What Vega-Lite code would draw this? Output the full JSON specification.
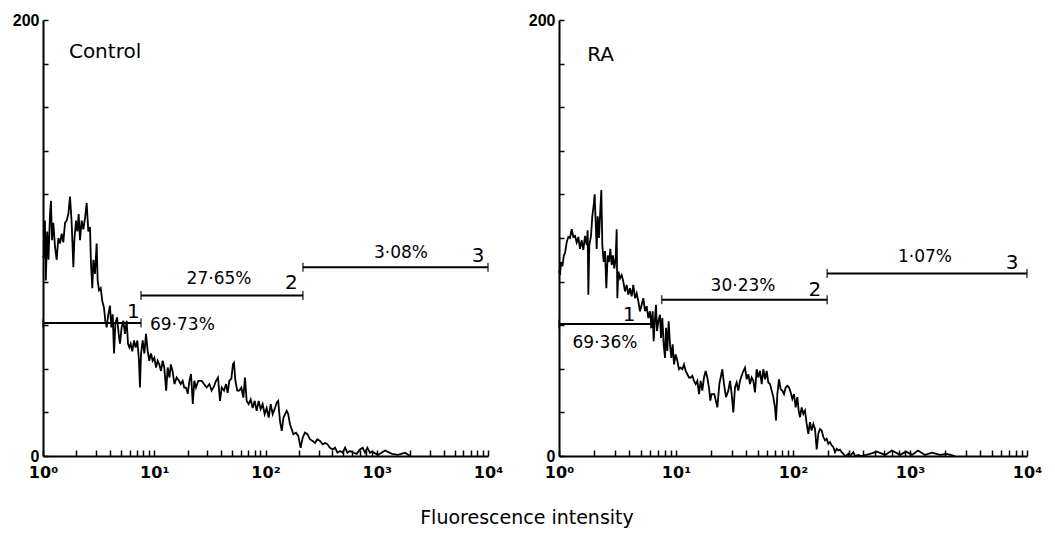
{
  "$schema": "https://vega.github.io/schema/vega-lite/v6.json",
  "background": "white",
  "padding": {"left": 12, "top": 12, "right": 5, "bottom": 2},
  "bounds": "flush",
  "spacing": 71,
  "title": {"text": "Fluorescence intensity", "orient": "bottom", "anchor": "middle", "font": "DejaVu Sans", "fontSize": 19, "fontWeight": "normal", "color": "black", "offset": 29},
  "config": {
    "view": {"stroke": null},
    "axis": {"grid": false, "domainColor": "black", "domainWidth": 2, "tickColor": "black", "tickWidth": 1.5, "labelColor": "black", "labelFont": "Liberation Sans", "labelFontWeight": "bold", "labelOverlap": false, "labelFlush": false},
    "axisX": {"tickSize": -6, "labelPadding": 14, "labelFontSize": 16, "labelFont": "DejaVu Sans"},
    "axisY": {"tickSize": -5, "labelPadding": 9, "labelFontSize": 16}
  },
  "datasets": {
    "control": [
      {"intensity": 1.0, "count": 92}, {"intensity": 1.02, "count": 91}, {"intensity": 1.04, "count": 108}, {"intensity": 1.06, "count": 80.5}, {"intensity": 1.09, "count": 103}, {"intensity": 1.12, "count": 90}, {"intensity": 1.156, "count": 111}, {"intensity": 1.18, "count": 117}, {"intensity": 1.205, "count": 99}, {"intensity": 1.238, "count": 107}, {"intensity": 1.282, "count": 96}, {"intensity": 1.327, "count": 90}, {"intensity": 1.373, "count": 100}, {"intensity": 1.422, "count": 97.5}, {"intensity": 1.472, "count": 102}, {"intensity": 1.523, "count": 98}, {"intensity": 1.577, "count": 107}, {"intensity": 1.632, "count": 108}, {"intensity": 1.69, "count": 111}, {"intensity": 1.749, "count": 119}, {"intensity": 1.81, "count": 107}, {"intensity": 1.874, "count": 86.6}, {"intensity": 1.913, "count": 99}, {"intensity": 1.98, "count": 108}, {"intensity": 2.036, "count": 103}, {"intensity": 2.092, "count": 111}, {"intensity": 2.151, "count": 99}, {"intensity": 2.227, "count": 108}, {"intensity": 2.305, "count": 104}, {"intensity": 2.385, "count": 109}, {"intensity": 2.469, "count": 116}, {"intensity": 2.556, "count": 103}, {"intensity": 2.645, "count": 105}, {"intensity": 2.7, "count": 88}, {"intensity": 2.775, "count": 77}, {"intensity": 2.834, "count": 90}, {"intensity": 2.933, "count": 83.5}, {"intensity": 3.036, "count": 97.5}, {"intensity": 3.1, "count": 80.5}, {"intensity": 3.187, "count": 76}, {"intensity": 3.299, "count": 77}, {"intensity": 3.414, "count": 71}, {"intensity": 3.533, "count": 68}, {"intensity": 3.632, "count": 62}, {"intensity": 3.735, "count": 59}, {"intensity": 3.866, "count": 65}, {"intensity": 4.0, "count": 69}, {"intensity": 4.113, "count": 59}, {"intensity": 4.23, "count": 65}, {"intensity": 4.35, "count": 47}, {"intensity": 4.47, "count": 60.6}, {"intensity": 4.63, "count": 63.6}, {"intensity": 4.79, "count": 56}, {"intensity": 4.92, "count": 51.5}, {"intensity": 5.09, "count": 59}, {"intensity": 5.27, "count": 62}, {"intensity": 5.46, "count": 56}, {"intensity": 5.65, "count": 62}, {"intensity": 5.81, "count": 51.5}, {"intensity": 5.97, "count": 49.8}, {"intensity": 6.14, "count": 51.5}, {"intensity": 6.35, "count": 48}, {"intensity": 6.58, "count": 53}, {"intensity": 6.81, "count": 49.8}, {"intensity": 7.05, "count": 53}, {"intensity": 7.29, "count": 43.7}, {"intensity": 7.44, "count": 31.4}, {"intensity": 7.6, "count": 46.8}, {"intensity": 7.87, "count": 53}, {"intensity": 8.15, "count": 47}, {"intensity": 8.43, "count": 56}, {"intensity": 8.73, "count": 48}, {"intensity": 9.03, "count": 43.7}, {"intensity": 9.35, "count": 47}, {"intensity": 9.68, "count": 43.7}, {"intensity": 10.02, "count": 45}, {"intensity": 10.37, "count": 40.6}, {"intensity": 10.73, "count": 43.7}, {"intensity": 11.1, "count": 42}, {"intensity": 11.5, "count": 39}, {"intensity": 11.9, "count": 43.7}, {"intensity": 12.3, "count": 40.6}, {"intensity": 12.8, "count": 30}, {"intensity": 13.2, "count": 40.6}, {"intensity": 13.7, "count": 36}, {"intensity": 14.1, "count": 42}, {"intensity": 14.6, "count": 39}, {"intensity": 15.2, "count": 33}, {"intensity": 15.9, "count": 36}, {"intensity": 16.7, "count": 34.5}, {"intensity": 17.3, "count": 33}, {"intensity": 18.0, "count": 34.5}, {"intensity": 18.6, "count": 31.4}, {"intensity": 19.3, "count": 31.4}, {"intensity": 20.0, "count": 28.5}, {"intensity": 20.7, "count": 34.5}, {"intensity": 21.4, "count": 37.6}, {"intensity": 22.2, "count": 23.9}, {"intensity": 22.9, "count": 34.5}, {"intensity": 23.7, "count": 31.4}, {"intensity": 24.9, "count": 34.5}, {"intensity": 26.7, "count": 34.5}, {"intensity": 28.0, "count": 33}, {"intensity": 29.6, "count": 31.4}, {"intensity": 31.3, "count": 33}, {"intensity": 32.8, "count": 30}, {"intensity": 34.5, "count": 32}, {"intensity": 35.9, "count": 34.5}, {"intensity": 37.4, "count": 36}, {"intensity": 39.0, "count": 25.3}, {"intensity": 40.4, "count": 31.4}, {"intensity": 42.4, "count": 30}, {"intensity": 44.2, "count": 33}, {"intensity": 45.7, "count": 29}, {"intensity": 47.3, "count": 34.5}, {"intensity": 49.3, "count": 35.4}, {"intensity": 51.0, "count": 42.2}, {"intensity": 52.1, "count": 42.8}, {"intensity": 53.6, "count": 34.5}, {"intensity": 55.8, "count": 30}, {"intensity": 58.2, "count": 30}, {"intensity": 60.7, "count": 31.4}, {"intensity": 63.2, "count": 26.8}, {"intensity": 65.4, "count": 36}, {"intensity": 67.7, "count": 25.3}, {"intensity": 70.6, "count": 23.8}, {"intensity": 73.6, "count": 26}, {"intensity": 76.7, "count": 22}, {"intensity": 79.9, "count": 25.3}, {"intensity": 83.3, "count": 20.7}, {"intensity": 86.8, "count": 25.3}, {"intensity": 90.5, "count": 21.5}, {"intensity": 94.3, "count": 23.8}, {"intensity": 98.3, "count": 19.2}, {"intensity": 102.5, "count": 22}, {"intensity": 106.8, "count": 17.6}, {"intensity": 111.3, "count": 23.8}, {"intensity": 116, "count": 19.2}, {"intensity": 121.7, "count": 22}, {"intensity": 126, "count": 24.5}, {"intensity": 130, "count": 25.3}, {"intensity": 135, "count": 16}, {"intensity": 140, "count": 11.5}, {"intensity": 145, "count": 17.6}, {"intensity": 150, "count": 19.2}, {"intensity": 155, "count": 20.7}, {"intensity": 160, "count": 19.2}, {"intensity": 166, "count": 14.6}, {"intensity": 172, "count": 12.3}, {"intensity": 178, "count": 10}, {"intensity": 188, "count": 10.7}, {"intensity": 197, "count": 9.2}, {"intensity": 207, "count": 3.8}, {"intensity": 216, "count": 8.4}, {"intensity": 226, "count": 10.7}, {"intensity": 238, "count": 10}, {"intensity": 251, "count": 7.7}, {"intensity": 265, "count": 6.9}, {"intensity": 279, "count": 6}, {"intensity": 292, "count": 7.7}, {"intensity": 309, "count": 6.9}, {"intensity": 327, "count": 5.4}, {"intensity": 343, "count": 6}, {"intensity": 360, "count": 5.4}, {"intensity": 380, "count": 3.8}, {"intensity": 402, "count": 3}, {"intensity": 422, "count": 3.8}, {"intensity": 443, "count": 1.5}, {"intensity": 468, "count": 2.3}, {"intensity": 494, "count": 1.5}, {"intensity": 519, "count": 3.8}, {"intensity": 544, "count": 1.5}, {"intensity": 575, "count": 2.3}, {"intensity": 617, "count": 1.5}, {"intensity": 660, "count": 1}, {"intensity": 707, "count": 3}, {"intensity": 747, "count": 3.8}, {"intensity": 784, "count": 1.5}, {"intensity": 823, "count": 3.8}, {"intensity": 869, "count": 1.5}, {"intensity": 906, "count": 2}, {"intensity": 1026, "count": 0.5}, {"intensity": 1186, "count": 2.5}, {"intensity": 1371, "count": 1}, {"intensity": 1552, "count": 0.5}, {"intensity": 1795, "count": 1.5}, {"intensity": 1990, "count": 0}
    ],
    "ra": [
      {"intensity": 1.0, "count": 85}, {"intensity": 1.02, "count": 83}, {"intensity": 1.04, "count": 89}, {"intensity": 1.07, "count": 87}, {"intensity": 1.1, "count": 92}, {"intensity": 1.125, "count": 93}, {"intensity": 1.163, "count": 98}, {"intensity": 1.202, "count": 100.5}, {"intensity": 1.242, "count": 100}, {"intensity": 1.283, "count": 104}, {"intensity": 1.326, "count": 100.5}, {"intensity": 1.37, "count": 101}, {"intensity": 1.416, "count": 98}, {"intensity": 1.463, "count": 100.5}, {"intensity": 1.512, "count": 95}, {"intensity": 1.562, "count": 99}, {"intensity": 1.614, "count": 94.5}, {"intensity": 1.668, "count": 101}, {"intensity": 1.724, "count": 96.7}, {"intensity": 1.758, "count": 103.5}, {"intensity": 1.781, "count": 74}, {"intensity": 1.816, "count": 96.7}, {"intensity": 1.877, "count": 101}, {"intensity": 1.927, "count": 110}, {"intensity": 1.978, "count": 115}, {"intensity": 2.018, "count": 120}, {"intensity": 2.058, "count": 107}, {"intensity": 2.099, "count": 95}, {"intensity": 2.141, "count": 110}, {"intensity": 2.197, "count": 100}, {"intensity": 2.256, "count": 113}, {"intensity": 2.3, "count": 122}, {"intensity": 2.346, "count": 96.7}, {"intensity": 2.408, "count": 89}, {"intensity": 2.473, "count": 94}, {"intensity": 2.538, "count": 77}, {"intensity": 2.606, "count": 92}, {"intensity": 2.676, "count": 89}, {"intensity": 2.747, "count": 95}, {"intensity": 2.82, "count": 87.6}, {"intensity": 2.894, "count": 92}, {"intensity": 2.971, "count": 86}, {"intensity": 3.05, "count": 90.7}, {"intensity": 3.111, "count": 104}, {"intensity": 3.152, "count": 72.4}, {"intensity": 3.214, "count": 84.6}, {"intensity": 3.322, "count": 81.5}, {"intensity": 3.433, "count": 83}, {"intensity": 3.547, "count": 80}, {"intensity": 3.665, "count": 75.5}, {"intensity": 3.787, "count": 78.5}, {"intensity": 3.913, "count": 74}, {"intensity": 4.044, "count": 77}, {"intensity": 4.178, "count": 73.2}, {"intensity": 4.318, "count": 78.5}, {"intensity": 4.462, "count": 72.4}, {"intensity": 4.61, "count": 74.7}, {"intensity": 4.764, "count": 71}, {"intensity": 4.923, "count": 66.4}, {"intensity": 5.087, "count": 69.4}, {"intensity": 5.257, "count": 72.4}, {"intensity": 5.433, "count": 66.4}, {"intensity": 5.614, "count": 68.7}, {"intensity": 5.801, "count": 63.3}, {"intensity": 5.995, "count": 66.4}, {"intensity": 6.194, "count": 58.8}, {"intensity": 6.318, "count": 66.4}, {"intensity": 6.443, "count": 52.7}, {"intensity": 6.614, "count": 63.3}, {"intensity": 6.745, "count": 69.4}, {"intensity": 6.879, "count": 57.3}, {"intensity": 7.063, "count": 61.8}, {"intensity": 7.299, "count": 64.8}, {"intensity": 7.444, "count": 54.2}, {"intensity": 7.642, "count": 63.3}, {"intensity": 7.846, "count": 51.2}, {"intensity": 8.054, "count": 45}, {"intensity": 8.214, "count": 58.8}, {"intensity": 8.433, "count": 48.2}, {"intensity": 8.657, "count": 61.8}, {"intensity": 8.888, "count": 51.2}, {"intensity": 9.124, "count": 45}, {"intensity": 9.367, "count": 51.2}, {"intensity": 9.614, "count": 42}, {"intensity": 9.933, "count": 46.6}, {"intensity": 10.27, "count": 43.6}, {"intensity": 10.61, "count": 39.8}, {"intensity": 10.96, "count": 40.5}, {"intensity": 11.33, "count": 39.8}, {"intensity": 11.7, "count": 42}, {"intensity": 12.09, "count": 39}, {"intensity": 12.5, "count": 37.5}, {"intensity": 12.91, "count": 36}, {"intensity": 13.35, "count": 36}, {"intensity": 13.79, "count": 36.8}, {"intensity": 14.25, "count": 34.5}, {"intensity": 14.73, "count": 33}, {"intensity": 15.22, "count": 34.5}, {"intensity": 15.73, "count": 28.4}, {"intensity": 16.25, "count": 34.5}, {"intensity": 16.79, "count": 30}, {"intensity": 17.35, "count": 36}, {"intensity": 17.93, "count": 39}, {"intensity": 18.52, "count": 36}, {"intensity": 19.14, "count": 31.4}, {"intensity": 19.65, "count": 25.4}, {"intensity": 20.17, "count": 28.4}, {"intensity": 21.27, "count": 28.4}, {"intensity": 22.56, "count": 22.3}, {"intensity": 23.47, "count": 33}, {"intensity": 24.09, "count": 36}, {"intensity": 24.89, "count": 39.8}, {"intensity": 25.72, "count": 33}, {"intensity": 26.75, "count": 27}, {"intensity": 28.02, "count": 30}, {"intensity": 28.94, "count": 34.5}, {"intensity": 29.91, "count": 28.4}, {"intensity": 30.9, "count": 20}, {"intensity": 31.93, "count": 31.4}, {"intensity": 33.0, "count": 33.7}, {"intensity": 34.1, "count": 30}, {"intensity": 35.24, "count": 34.5}, {"intensity": 36.42, "count": 36.8}, {"intensity": 37.63, "count": 39}, {"intensity": 38.89, "count": 40.5}, {"intensity": 40.18, "count": 35.2}, {"intensity": 41.52, "count": 37.5}, {"intensity": 42.9, "count": 33}, {"intensity": 44.34, "count": 36}, {"intensity": 45.81, "count": 34.5}, {"intensity": 47.34, "count": 29.2}, {"intensity": 48.92, "count": 39.8}, {"intensity": 50.55, "count": 36}, {"intensity": 52.23, "count": 39}, {"intensity": 53.98, "count": 33}, {"intensity": 55.78, "count": 39.8}, {"intensity": 57.64, "count": 35.2}, {"intensity": 59.56, "count": 39}, {"intensity": 61.55, "count": 33.7}, {"intensity": 63.6, "count": 33}, {"intensity": 65.72, "count": 30}, {"intensity": 67.91, "count": 27}, {"intensity": 70.18, "count": 22.3}, {"intensity": 71.57, "count": 16.3}, {"intensity": 73.47, "count": 28.4}, {"intensity": 75.92, "count": 35.2}, {"intensity": 78.45, "count": 30.7}, {"intensity": 81.06, "count": 30}, {"intensity": 83.77, "count": 28.4}, {"intensity": 86.56, "count": 31.4}, {"intensity": 89.45, "count": 32.2}, {"intensity": 92.43, "count": 31.4}, {"intensity": 95.5, "count": 29.2}, {"intensity": 98.7, "count": 26.1}, {"intensity": 102, "count": 28.4}, {"intensity": 105.4, "count": 22.3}, {"intensity": 108.9, "count": 27}, {"intensity": 111.8, "count": 20.8}, {"intensity": 114.8, "count": 17.8}, {"intensity": 118.6, "count": 22.3}, {"intensity": 122.6, "count": 19.3}, {"intensity": 126.6, "count": 20.8}, {"intensity": 130.9, "count": 14.7}, {"intensity": 135.2, "count": 10.2}, {"intensity": 139.7, "count": 15.5}, {"intensity": 144.3, "count": 11.7}, {"intensity": 149.2, "count": 14.7}, {"intensity": 154.2, "count": 12.4}, {"intensity": 159.4, "count": 3}, {"intensity": 164.6, "count": 10.2}, {"intensity": 170.1, "count": 12.4}, {"intensity": 175.8, "count": 11.7}, {"intensity": 181.7, "count": 8.7}, {"intensity": 187.7, "count": 7.2}, {"intensity": 194, "count": 7.9}, {"intensity": 200.5, "count": 5.6}, {"intensity": 207.2, "count": 6.4}, {"intensity": 214, "count": 4.9}, {"intensity": 221, "count": 4.1}, {"intensity": 228.6, "count": 1.8}, {"intensity": 236.2, "count": 3.3}, {"intensity": 244, "count": 2.6}, {"intensity": 252, "count": 2.9}, {"intensity": 260.6, "count": 1.8}, {"intensity": 269.3, "count": 1}, {"intensity": 278.2, "count": 0}, {"intensity": 287.5, "count": 0.3}, {"intensity": 297, "count": 1}, {"intensity": 307, "count": 0}, {"intensity": 328, "count": 1.8}, {"intensity": 339, "count": 0}, {"intensity": 362, "count": 0.5}, {"intensity": 386, "count": 0}, {"intensity": 455, "count": 1}, {"intensity": 522, "count": 2}, {"intensity": 612, "count": 0.5}, {"intensity": 702, "count": 2.5}, {"intensity": 822, "count": 0.5}, {"intensity": 925, "count": 2}, {"intensity": 1040, "count": 0.5}, {"intensity": 1171, "count": 2.5}, {"intensity": 1343, "count": 0.5}, {"intensity": 1542, "count": 1.5}, {"intensity": 1804, "count": 0.5}, {"intensity": 2071, "count": 1}, {"intensity": 2425, "count": 0}
    ],
    "bars": [
      {"panel": "Control", "from": 1, "to": 7.6, "level": 61},
      {"panel": "Control", "from": 7.6, "to": 217, "level": 73.6},
      {"panel": "Control", "from": 217, "to": 10000, "level": 86.6},
      {"panel": "RA", "from": 1, "to": 6.1, "level": 60.6},
      {"panel": "RA", "from": 7.55, "to": 196, "level": 71.7},
      {"panel": "RA", "from": 196, "to": 10000, "level": 83.7}
    ],
    "labels": [
      {"panel": "Control", "kind": "name", "x": 1.71, "y": 182.5, "text": "Control"},
      {"panel": "Control", "kind": "num", "x": 6.5, "y": 63.4, "text": "1"},
      {"panel": "Control", "kind": "num", "x": 171, "y": 76.6, "text": "2"},
      {"panel": "Control", "kind": "num", "x": 8130, "y": 89.2, "text": "3"},
      {"panel": "Control", "kind": "pct", "x": 17.9, "y": 57.9, "text": "69·73%"},
      {"panel": "Control", "kind": "pct", "x": 38.2, "y": 79, "text": "27·65%"},
      {"panel": "Control", "kind": "pct", "x": 1652, "y": 91, "text": "3·08%"},
      {"panel": "RA", "kind": "name", "x": 1.74, "y": 181, "text": "RA"},
      {"panel": "RA", "kind": "num", "x": 3.97, "y": 62, "text": "1"},
      {"panel": "RA", "kind": "num", "x": 154, "y": 73.3, "text": "2"},
      {"panel": "RA", "kind": "num", "x": 7450, "y": 86, "text": "3"},
      {"panel": "RA", "kind": "pct", "x": 2.47, "y": 49.7, "text": "69·36%"},
      {"panel": "RA", "kind": "pct", "x": 37.4, "y": 75.6, "text": "30·23%"},
      {"panel": "RA", "kind": "pct", "x": 1343, "y": 89, "text": "1·07%"}
    ]
  },
  "hconcat": [
    {
      "width": 445,
      "height": 436,
      "layer": [
        {
          "data": {"name": "control"},
          "mark": {"type": "line", "color": "black", "strokeWidth": 1.8},
          "encoding": {
            "x": {"field": "intensity", "type": "quantitative", "title": null, "scale": {"type": "log", "domain": [1, 10000]},
              "axis": {"values": [1,2,3,4,5,6,7,8,9,10,20,30,40,50,60,70,80,90,100,200,300,400,500,600,700,800,900,1000,2000,3000,4000,5000,6000,7000,8000,9000,10000],
                "labelExpr": "datum.value == 1 ? '10⁰' : datum.value == 10 ? '10¹' : datum.value == 100 ? '10²' : datum.value == 1000 ? '10³' : datum.value == 10000 ? '10⁴' : ''"}},
            "y": {"field": "count", "type": "quantitative", "title": null, "scale": {"domain": [0, 200]},
              "axis": {"values": [0,20,40,60,80,100,120,140,160,180,200], "labelExpr": "datum.value == 0 || datum.value == 200 ? datum.label : ''"}}
          }
        },
        {
          "data": {"name": "bars"},
          "transform": [{"filter": "datum.panel == 'Control'"}],
          "mark": {"type": "rule", "color": "black", "strokeWidth": 2},
          "encoding": {"x": {"field": "from", "type": "quantitative", "title": null}, "x2": {"field": "to"}, "y": {"field": "level", "type": "quantitative", "title": null}}
        },
        {
          "data": {"name": "bars"},
          "transform": [{"filter": "datum.panel == 'Control'"}],
          "mark": {"type": "tick", "orient": "vertical", "size": 9, "thickness": 1.6, "color": "black"},
          "encoding": {"x": {"field": "from", "type": "quantitative", "title": null}, "y": {"field": "level", "type": "quantitative", "title": null}}
        },
        {
          "data": {"name": "bars"},
          "transform": [{"filter": "datum.panel == 'Control'"}],
          "mark": {"type": "tick", "orient": "vertical", "size": 9, "thickness": 1.6, "color": "black"},
          "encoding": {"x": {"field": "to", "type": "quantitative", "title": null}, "y": {"field": "level", "type": "quantitative", "title": null}}
        },
        {
          "data": {"name": "labels"},
          "transform": [{"filter": "datum.panel == 'Control' && datum.kind == 'name'"}],
          "mark": {"type": "text", "align": "left", "baseline": "alphabetic", "font": "DejaVu Sans", "fontSize": 20, "color": "black"},
          "encoding": {"x": {"field": "x", "type": "quantitative", "title": null}, "y": {"field": "y", "type": "quantitative", "title": null}, "text": {"field": "text"}}
        },
        {
          "data": {"name": "labels"},
          "transform": [{"filter": "datum.panel == 'Control' && datum.kind == 'num'"}],
          "mark": {"type": "text", "align": "center", "baseline": "alphabetic", "font": "DejaVu Sans", "fontSize": 20, "color": "black"},
          "encoding": {"x": {"field": "x", "type": "quantitative", "title": null}, "y": {"field": "y", "type": "quantitative", "title": null}, "text": {"field": "text"}}
        },
        {
          "data": {"name": "labels"},
          "transform": [{"filter": "datum.panel == 'Control' && datum.kind == 'pct'"}],
          "mark": {"type": "text", "align": "center", "baseline": "alphabetic", "font": "DejaVu Sans", "fontSize": 17, "color": "black"},
          "encoding": {"x": {"field": "x", "type": "quantitative", "title": null}, "y": {"field": "y", "type": "quantitative", "title": null}, "text": {"field": "text"}}
        }
      ]
    },
    {
      "width": 468,
      "height": 436,
      "layer": [
        {
          "data": {"name": "ra"},
          "mark": {"type": "line", "color": "black", "strokeWidth": 1.8},
          "encoding": {
            "x": {"field": "intensity", "type": "quantitative", "title": null, "scale": {"type": "log", "domain": [1, 10000]},
              "axis": {"values": [1,2,3,4,5,6,7,8,9,10,20,30,40,50,60,70,80,90,100,200,300,400,500,600,700,800,900,1000,2000,3000,4000,5000,6000,7000,8000,9000,10000],
                "labelExpr": "datum.value == 1 ? '10⁰' : datum.value == 10 ? '10¹' : datum.value == 100 ? '10²' : datum.value == 1000 ? '10³' : datum.value == 10000 ? '10⁴' : ''"}},
            "y": {"field": "count", "type": "quantitative", "title": null, "scale": {"domain": [0, 200]},
              "axis": {"values": [0,20,40,60,80,100,120,140,160,180,200], "labelExpr": "datum.value == 0 || datum.value == 200 ? datum.label : ''"}}
          }
        },
        {
          "data": {"name": "bars"},
          "transform": [{"filter": "datum.panel == 'RA'"}],
          "mark": {"type": "rule", "color": "black", "strokeWidth": 2},
          "encoding": {"x": {"field": "from", "type": "quantitative", "title": null}, "x2": {"field": "to"}, "y": {"field": "level", "type": "quantitative", "title": null}}
        },
        {
          "data": {"name": "bars"},
          "transform": [{"filter": "datum.panel == 'RA'"}],
          "mark": {"type": "tick", "orient": "vertical", "size": 9, "thickness": 1.6, "color": "black"},
          "encoding": {"x": {"field": "from", "type": "quantitative", "title": null}, "y": {"field": "level", "type": "quantitative", "title": null}}
        },
        {
          "data": {"name": "bars"},
          "transform": [{"filter": "datum.panel == 'RA'"}],
          "mark": {"type": "tick", "orient": "vertical", "size": 9, "thickness": 1.6, "color": "black"},
          "encoding": {"x": {"field": "to", "type": "quantitative", "title": null}, "y": {"field": "level", "type": "quantitative", "title": null}}
        },
        {
          "data": {"name": "labels"},
          "transform": [{"filter": "datum.panel == 'RA' && datum.kind == 'name'"}],
          "mark": {"type": "text", "align": "left", "baseline": "alphabetic", "font": "DejaVu Sans", "fontSize": 20, "color": "black"},
          "encoding": {"x": {"field": "x", "type": "quantitative", "title": null}, "y": {"field": "y", "type": "quantitative", "title": null}, "text": {"field": "text"}}
        },
        {
          "data": {"name": "labels"},
          "transform": [{"filter": "datum.panel == 'RA' && datum.kind == 'num'"}],
          "mark": {"type": "text", "align": "center", "baseline": "alphabetic", "font": "DejaVu Sans", "fontSize": 20, "color": "black"},
          "encoding": {"x": {"field": "x", "type": "quantitative", "title": null}, "y": {"field": "y", "type": "quantitative", "title": null}, "text": {"field": "text"}}
        },
        {
          "data": {"name": "labels"},
          "transform": [{"filter": "datum.panel == 'RA' && datum.kind == 'pct'"}],
          "mark": {"type": "text", "align": "center", "baseline": "alphabetic", "font": "DejaVu Sans", "fontSize": 17, "color": "black"},
          "encoding": {"x": {"field": "x", "type": "quantitative", "title": null}, "y": {"field": "y", "type": "quantitative", "title": null}, "text": {"field": "text"}}
        }
      ]
    }
  ]
}
